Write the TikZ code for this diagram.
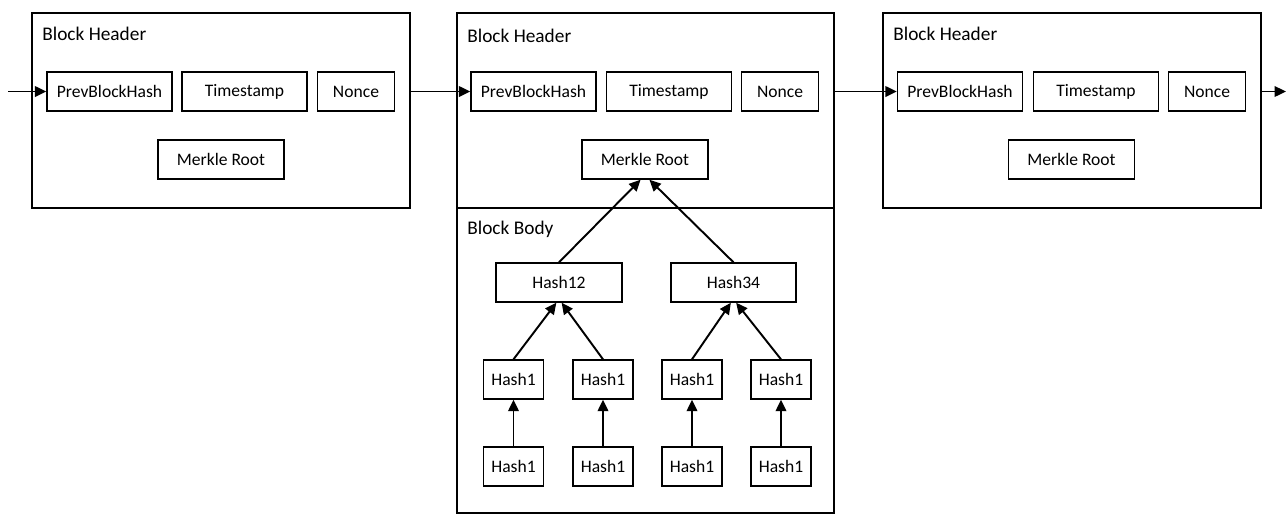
\documentclass[tikz,border=0pt]{standalone}
\usepackage{fontspec}
\setmainfont{Carlito}
\usetikzlibrary{arrows.meta}

\begin{document}
\begin{tikzpicture}[x=0.02cm, y=-0.02cm,
    >={Triangle[length=6.5pt,width=6pt]},
    blk/.style={draw, line width=0.8pt, inner sep=0pt},
    lbl/.style={anchor=west, inner sep=0pt, font=\fontsize{11}{13}\selectfont},
    fld/.style={draw, line width=0.8pt, minimum height=0.78cm, inner sep=0pt, font=\fontsize{10}{12}\selectfont},
    link/.style={line width=1.1pt}]
      \useasboundingbox (0,0) rectangle (1286,515);
      \draw
        (221,110.5) node[blk, minimum width=7.56cm, minimum height=3.9cm] (hdrA){}
        (645.5,110.5) node[blk, minimum width=7.54cm, minimum height=3.9cm] (hdrB){}
        (645.5,360.5) node[blk, minimum width=7.54cm, minimum height=6.1cm] (bodyB){}
        (1072,110.5) node[blk, minimum width=7.56cm, minimum height=3.9cm] (hdrC){}
        (42,34) node[lbl] (hdrAlbl){Block Header}
        (467,36) node[lbl] (hdrBlbl){Block Header}
        (893,34) node[lbl] (hdrClbl){Block Header}
        (467,229) node[lbl] (bodyBlbl){Block Body};
      \draw
        (109.5,91.5) node[fld, minimum width=2.5cm] (prevA){PrevBlockHash}
        (244.5,91.5) node[fld, minimum width=2.5cm] (timeA){Timestamp}
        (356,91.5) node[fld, minimum width=1.54cm] (nonceA){Nonce}
        (221,159.5) node[fld, minimum width=2.52cm] (rootA){Merkle Root}
        (533.5,91.5) node[fld, minimum width=2.5cm] (prevB){PrevBlockHash}
        (669,91.5) node[fld, minimum width=2.5cm] (timeB){Timestamp}
        (780,91.5) node[fld, minimum width=1.54cm] (nonceB){Nonce}
        (645,159.5) node[fld, minimum width=2.52cm] (rootB){Merkle Root}
        (960,91.5) node[fld, minimum width=2.5cm] (prevC){PrevBlockHash}
        (1096,91.5) node[fld, minimum width=2.5cm] (timeC){Timestamp}
        (1207,91.5) node[fld, minimum width=1.54cm] (nonceC){Nonce}
        (1071.5,159.5) node[fld, minimum width=2.52cm] (rootC){Merkle Root};
      \draw
        (559,282.5) node[fld, minimum width=2.52cm] (hashAB){Hash12}
        (733.5,282.5) node[fld, minimum width=2.5cm] (hashCD){Hash34}
        (513.5,379.5) node[fld, minimum width=1.2cm] (hashA){Hash1}
        (603,379.5) node[fld, minimum width=1.2cm] (hashB){Hash1}
        (692,379.5) node[fld, minimum width=1.2cm] (hashC){Hash1}
        (781,379.5) node[fld, minimum width=1.2cm] (hashD){Hash1}
        (513.5,466.5) node[fld, minimum width=1.2cm] (txA){Hash1}
        (603,466.5) node[fld, minimum width=1.2cm] (txB){Hash1}
        (692,466.5) node[fld, minimum width=1.2cm] (txC){Hash1}
        (781,466.5) node[fld, minimum width=1.2cm] (txD){Hash1};
      \coordinate (chainIn) at (8,91.5);
      \coordinate (chainOut) at (1286,91.5);
      \begin{scope}[->, link]
        \draw (chainIn) to (prevA);
        \draw (hdrA.east |- prevB) to (prevB);
        \draw (hdrB.east |- prevC) to (prevC);
        \draw (hdrC.east |- chainOut) to (chainOut);
        \draw (hashAB.north) to ([xshift=-2.5pt]rootB.south);
        \draw (hashCD.north) to ([xshift=2.5pt]rootB.south);
        \draw (hashA.north) to ([xshift=-1.5pt]hashAB.south);
        \draw (hashB.north) to ([xshift=1.5pt]hashAB.south);
        \draw (hashC.north) to ([xshift=-1.5pt]hashCD.south);
        \draw (hashD.north) to ([xshift=1.5pt]hashCD.south);
        \draw (txA) to (hashA);
        \draw (txB) to (hashB);
        \draw (txC) to (hashC);
        \draw (txD) to (hashD);
      \end{scope}
    \end{tikzpicture}
\end{document}
